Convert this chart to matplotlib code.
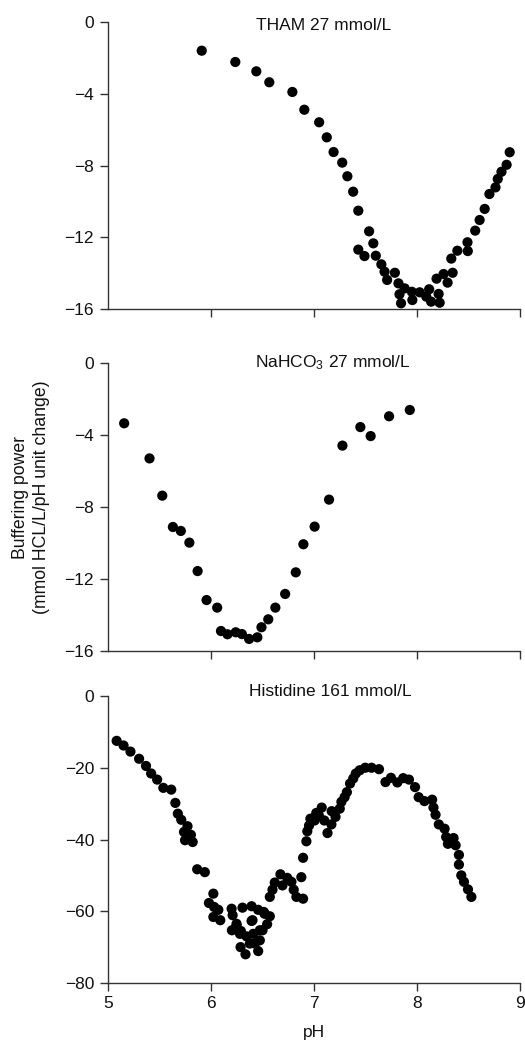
import matplotlib
matplotlib.use("Agg")
import matplotlib.pyplot as plt

plt.rcParams['font.family'] = ['Liberation Sans', 'DejaVu Sans']
plt.rcParams['mathtext.fontset'] = 'custom'
plt.rcParams['mathtext.rm'] = 'Liberation Sans'
plt.rcParams['mathtext.it'] = 'Liberation Sans:italic'
plt.rcParams['mathtext.bf'] = 'Liberation Sans:bold'

# ---------------- data ----------------
tham_ph = [5.91, 6.236, 6.44, 6.566, 6.79, 6.906, 7.05, 7.124, 7.19, 7.274, 7.324, 7.38,
           7.43, 7.535, 7.576, 7.43, 7.49, 7.60, 7.654, 7.685, 7.71, 7.785, 7.82, 7.83,
           7.845, 7.88, 7.955, 7.95, 8.026, 8.118, 8.09, 8.137, 8.21, 8.22, 8.19, 8.258,
           8.297, 8.346, 8.333, 8.392, 8.49, 8.493, 8.565, 8.608, 8.657, 8.703, 8.762,
           8.784, 8.82, 8.87, 8.90]
tham_bp = [-1.6, -2.23, -2.75, -3.36, -3.90, -4.89, -5.59, -6.43, -7.25, -7.84, -8.60, -9.46,
           -10.52, -11.67, -12.34, -12.69, -13.05, -13.03, -13.51, -13.92, -14.38, -13.98,
           -14.57, -15.18, -15.68, -14.85, -15.50, -15.04, -15.07, -14.90, -15.31, -15.59,
           -15.16, -15.65, -14.31, -14.05, -14.53, -13.98, -13.19, -12.75, -12.28, -12.77,
           -11.63, -11.04, -10.42, -9.59, -9.22, -8.75, -8.35, -7.96, -7.26]

nahco3_ph = [5.157, 5.403, 5.527, 5.63, 5.707, 5.79, 5.87, 5.957, 6.06, 6.097, 6.16, 6.24,
             6.30, 6.37, 6.45, 6.49, 6.556, 6.625, 6.72, 6.823, 6.897, 7.006, 7.146, 7.276,
             7.45, 7.55, 7.729, 7.93]
nahco3_bp = [-3.35, -5.30, -7.37, -9.11, -9.33, -9.98, -11.56, -13.17, -13.59, -14.89, -15.07,
             -14.96, -15.06, -15.33, -15.24, -14.68, -14.24, -13.59, -12.83, -11.63, -10.07,
             -9.09, -7.59, -4.59, -3.56, -4.06, -2.96, -2.61]

hist_ph = [5.084, 5.151, 5.218, 5.302, 5.369, 5.419, 5.477, 5.537, 5.614, 5.654, 5.678, 5.711,
           5.738, 5.772, 5.748, 5.805, 5.822, 5.866, 5.94, 6.023, 5.98, 6.03, 6.023, 6.071,
           6.09, 6.20, 6.21, 6.248, 6.203, 6.281, 6.306, 6.287, 6.335, 6.345, 6.394, 6.394,
           6.377, 6.41, 6.458, 6.474, 6.474, 6.458, 6.513, 6.545, 6.571, 6.571, 6.597, 6.619,
           6.674, 6.694, 6.74, 6.781, 6.803, 6.829, 6.877, 6.894, 6.894, 6.926, 6.935, 6.952,
           6.965, 7.006, 7.022, 7.047, 7.075, 7.10, 7.131, 7.169, 7.172, 7.209, 7.25, 7.266,
           7.297, 7.319, 7.35, 7.381, 7.406, 7.444, 7.497, 7.559, 7.631, 7.694, 7.747, 7.809,
           7.866, 7.922, 7.981, 8.016, 8.072, 8.147, 8.16, 8.18, 8.212, 8.268, 8.283, 8.30,
           8.355, 8.375, 8.407, 8.407, 8.43, 8.456, 8.495, 8.528,
           6.248, 6.29, 6.426, 6.50, 6.403, 6.52]
hist_bp = [-12.5, -13.8, -15.5, -17.5, -19.5, -21.6, -23.3, -25.6, -26.1, -29.8, -32.8, -34.5,
           -37.9, -36.3, -40.2, -38.7, -40.7, -48.3, -49.1, -55.1, -57.7, -58.8, -61.6, -59.6,
           -62.5, -59.3, -61.1, -63.5, -65.3, -66.3, -59.0, -70.0, -72.0, -67.0, -58.6, -62.7,
           -69.0, -66.3, -59.6, -65.3, -68.1, -71.1, -60.2, -63.6, -61.4, -56.0, -54.0, -52.0,
           -49.7, -52.8, -50.7, -51.8, -54.0, -56.0, -50.5, -56.5, -45.1, -40.5, -37.7, -36.1,
           -34.2, -34.7, -32.6, -33.3, -31.1, -34.7, -38.2, -35.8, -32.1, -33.7, -31.4, -29.5,
           -28.2, -26.8, -24.4, -23.0, -21.6, -20.7, -20.0, -20.0, -20.4, -24.0, -22.8, -24.1,
           -22.9, -23.3, -25.4, -28.2, -29.3, -28.9, -31.1, -33.1, -35.8, -37.0, -39.3, -41.2,
           -39.6, -41.6, -44.3, -47.0, -50.0, -51.8, -53.9, -56.0,
           -64.0, -65.5, -69.0, -65.3, -62.5, -60.7]

titles = ["THAM 27 mmol/L", r"NaHCO$_\mathregular{3}$ 27 mmol/L", "Histidine 161 mmol/L"]
title_x = [7.09, 7.18, 7.16]
yticks_small = [0, -4, -8, -12, -16]
yticks_hist = [0, -20, -40, -60, -80]
xticks = [5, 6, 7, 8, 9]

# ---------------- figure ----------------
fig = plt.figure(figsize=(5.25, 10.4), dpi=100)
left, width = 108 / 525, 412 / 525
rects = [(left, 1 - 309 / 1040, width, 287 / 1040),
         (left, 1 - 651 / 1040, width, 288 / 1040),
         (left, 1 - 983 / 1040, width, 287 / 1040)]
title_dy = [-3, 0, 5]  # pixel offsets of panel titles relative to top of axes

datasets = [(tham_ph, tham_bp, yticks_small, (-16, 0)),
            (nahco3_ph, nahco3_bp, yticks_small, (-16, 0)),
            (hist_ph, hist_bp, yticks_hist, (-80, 0))]

spine_col = '#333333'
for i, (rect, (xs, ys, yt, yl)) in enumerate(zip(rects, datasets)):
    ax = fig.add_axes(rect)
    ax.scatter(xs, ys, s=54, color='black', edgecolors='none', clip_on=False, zorder=3)
    ax.set_xlim(5, 9)
    ax.set_ylim(*yl)
    ax.set_yticks(yt)
    for s in ['top', 'right']:
        ax.spines[s].set_visible(False)
    for s in ['left', 'bottom']:
        ax.spines[s].set_color(spine_col)
        ax.spines[s].set_linewidth(1.0)
    ax.tick_params(axis='both', direction='out', length=6, width=1.0,
                   color=spine_col, labelsize=12.5, labelcolor='#111111')
    ax.tick_params(axis='y', pad=4)
    ax.tick_params(axis='x', pad=3)
    if i < 2:
        ax.set_xticks(xticks[1:])
        ax.set_xticklabels([])
    else:
        ax.set_xticks(xticks)
    x0, y0, w, h = rect
    xf = x0 + (title_x[i] - 5) / 4 * w
    yf = y0 + h + title_dy[i] / 1040
    fig.text(xf, yf, titles[i], ha='center', va='center', fontsize=12.5,
             color='#111111')

fig.text(31 / 525, 1 - 497 / 1040, "Buffering power\n(mmol HCL/L/pH unit change)",
         rotation=90, ha='center', va='center', multialignment='center',
         fontsize=12.7, color='#111111', linespacing=1.35)
fig.text(314 / 525, 1 - 1032 / 1040, "pH", ha='center', va='center',
         fontsize=12.5, color='#111111')

fig.savefig("out.png", dpi=100)
